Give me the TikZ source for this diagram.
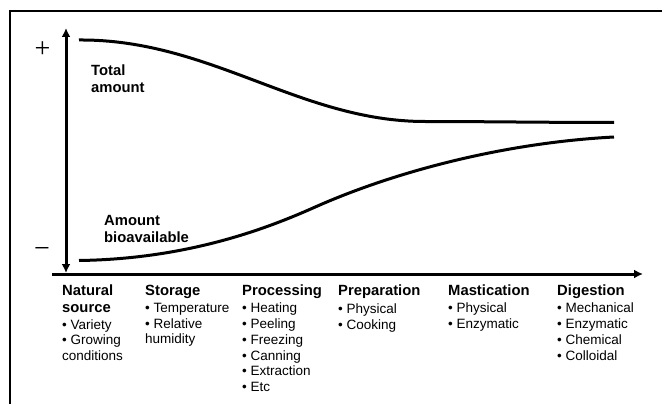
\documentclass[tikz,border=0pt]{standalone}
\usepackage{fontspec}
\setmainfont{Liberation Sans}
\newfontfamily\signfont{Liberation Serif}
\usetikzlibrary{arrows.meta}

\tikzset{
  axis/.style={black,line width=3pt},
  curve/.style={black,line width=3pt},
  lbl/.style={anchor=north west,inner sep=0pt,align=left,font=\bfseries\fontsize{14.8}{17}\selectfont},
  col/.style={anchor=north west,inner sep=0pt,align=left,font=\fontsize{13.5}{15.8}\selectfont},
  sign/.style={inner sep=0pt,font=\signfont\fontsize{28}{28}\selectfont}
}
\newcommand{\hd}[1]{\textbf{\fontsize{14.8}{16}\selectfont #1}}

\begin{document}
\begin{tikzpicture}[x=1pt,y=-1pt]
\useasboundingbox (0,0) rectangle (662,404);

% frame
\draw[black,line width=2pt] (10,404) -- (10,11) -- (662,11);

\coordinate (ytop) at (66,28);
\coordinate (ybot) at (66,273);
\coordinate (xstart) at (52,274);
\coordinate (xend) at (643,274);

\draw[axis,{Latex[length=9pt,width=9pt]}-{Latex[length=9pt,width=9pt]}] (ybot) -- (ytop);
\draw[axis,-{Latex[length=9pt,width=9pt]}] (xstart) -- (xend);

\node (plus) at (42.5,50) [sign] {+};
\node (minus) at (42,253) [sign] {−};

% total amount
\draw[curve] (79,40) .. controls (210,39) and (300,121.5) .. (425,121.5)
  .. controls (485,121.5) and (545,122.5) .. (614,122.5);
% amount bioavailable
\draw[curve] (79,260.5) .. controls (190,259) and (270,227) .. (313,208)
  .. controls (390,173.4) and (500,143) .. (614,137);

\node (total) at (91,65) [lbl] {Total\\amount};
\node (bioav) at (104,215.5) [lbl] {Amount\\bioavailable};

% stages
\node (natural) at (62,285) [col] {\hd{Natural}\\[0.5pt]\hd{source}\\[1pt]• Variety\\• Growing\\conditions};
\node (storage) at (145,285) [col] {\hd{Storage}\\[1pt]• Temperature\\• Relative\\humidity};
\node (processing) at (242,285) [col] {\hd{Processing}\\[1pt]• Heating\\• Peeling\\• Freezing\\• Canning\\• Extraction\\• Etc};
\node (preparation) at (338,285) [col] {\hd{Preparation}\\[2pt]• Physical\\• Cooking};
\node (mastication) at (448,285) [col] {\hd{Mastication}\\[1pt]• Physical\\• Enzymatic};
\node (digestion) at (557,285) [col] {\hd{Digestion}\\[1pt]• Mechanical\\• Enzymatic\\• Chemical\\• Colloidal};

\end{tikzpicture}
\end{document}
